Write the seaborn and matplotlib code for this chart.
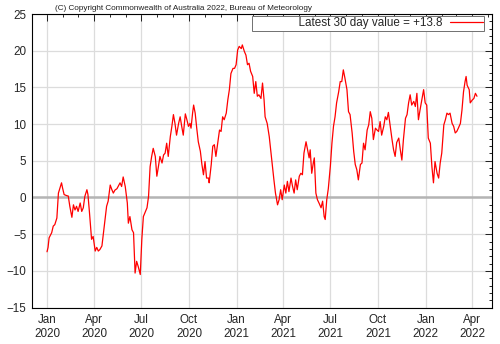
import numpy as np
import pandas as pd
import matplotlib
matplotlib.use("Agg")
import matplotlib.pyplot as plt
import matplotlib.dates as mdates
from matplotlib.ticker import MultipleLocator
import seaborn as sns

# 30-day Southern Oscillation Index, sampled every few days from 1 Jan 2020
start_date = "2020-01-01"
days_since_start = [
    0, 2, 4, 9, 12, 15, 19, 22, 25, 28, 30, 33, 38, 41, 44, 48, 51, 54, 57, 60,
    64, 67, 70, 73, 77, 79, 82, 86, 89, 93, 96, 99, 102, 106, 109, 112, 115, 118,
    122, 125, 128, 131, 135, 138, 141, 144, 147, 151, 155, 157, 160, 164, 167,
    170, 173, 176, 180, 183, 186, 189, 193, 196, 199, 202, 205, 209, 212, 215,
    218, 222, 225, 228, 231, 234, 238, 241, 244, 247, 250, 254, 257, 260, 263,
    267, 270, 273, 276, 278, 281, 283, 286, 289, 292, 296, 299, 302, 305, 308,
    312, 313, 317, 320, 323, 326, 330, 333, 336, 339, 342, 346, 349, 352, 355,
    359, 362, 365, 368, 371, 375, 377, 381, 384, 387, 390, 393, 397, 400, 403,
    406, 409, 413, 416, 419, 421, 425, 429, 432, 435, 438, 441, 445, 448, 451,
    454, 458, 461, 464, 467, 471, 474, 477, 480, 483, 487, 490, 493, 496, 500,
    503, 506, 508, 511, 514, 516, 519, 522, 525, 529, 532, 535, 537, 540, 543,
    547, 550, 553, 556, 559, 563, 566, 569, 572, 575, 579, 582, 585, 589, 592,
    595, 598, 601, 605, 608, 611, 614, 618, 621, 624, 627, 630, 634, 637, 640,
    643, 646, 650, 653, 656, 659, 663, 666, 669, 672, 675, 679, 682, 685, 688,
    692, 695, 698, 701, 704, 708, 711, 714, 717, 720, 724, 727, 730, 733, 736,
    740, 743, 746, 749, 753, 756, 759, 762, 766, 769, 772, 775, 778, 782, 785,
    788, 791, 794, 798, 801, 804, 807, 809, 811, 815, 817, 821, 824, 827, 830,
]
soi_30day = [
    -7.4, -6.8, -5.5, -4.8, -3.9, -3.7, -2.8, 0.6, 1.3, 2.0, 1.3, 0.4, 0.25, 0.2,
    -1.2, -2.7, -1.0, -1.7, -1.2, -1.9, -0.75, -1.9, -1.4, 0.15, 1.06, 0.4, -2.1,
    -5.7, -5.3, -7.3, -6.8, -7.3, -7.1, -6.6, -4.8, -3.0, -1.2, -0.5, 1.7, 1.1,
    0.6, 1.0, 1.2, 1.6, 2.0, 1.5, 2.8, 1.5, -0.75, -3.5, -2.6, -4.4, -4.8, -10.3,
    -8.7, -9.4, -10.5, -5.7, -2.6, -2.1, -1.4, 0.15, 4.2, 5.6, 6.7, 5.6, 2.9,
    4.2, 5.6, 4.7, 5.8, 6.05, 7.4, 5.6, 8.3, 9.7, 11.3, 10.1, 8.5, 10.1, 11.0,
    9.7, 8.5, 11.4, 10.6, 9.7, 10.1, 9.45, 11.5, 12.6, 11.5, 9.45, 7.6, 6.3, 4.5,
    3.1, 4.9, 2.65, 2.65, 2.0, 4.5, 7.0, 7.2, 5.6, 7.6, 9.2, 9.0, 11.0, 10.6,
    11.5, 13.3, 14.7, 16.9, 17.6, 17.6, 18.1, 20.1, 20.6, 20.3, 20.8, 19.9, 19.4,
    18.1, 18.3, 17.2, 16.5, 14.2, 15.8, 13.8, 14.0, 13.5, 15.6, 13.3, 11.0, 10.1,
    8.3, 6.3, 4.2, 2.4, 0.6, -1.0, -0.3, 1.06, -0.3, 1.7, 0.6, 2.2, 0.8, 2.65,
    1.5, 0.6, 2.4, 1.06, 2.9, 3.3, 3.1, 6.05, 7.6, 6.5, 5.4, 6.5, 3.3, 4.7, 5.4,
    0.6, -0.3, -0.75, -1.4, -0.5, -2.6, -3.0, -0.3, 1.2, 4.3, 7.4, 9.7, 11.0,
    12.9, 14.4, 15.8, 15.8, 17.4, 16.3, 14.7, 11.7, 11.3, 8.8, 6.3, 4.5, 3.8,
    2.4, 4.5, 4.7, 7.4, 6.5, 9.2, 9.9, 11.7, 10.8, 7.9, 9.45, 9.2, 9.0, 10.35,
    8.5, 9.7, 11.0, 10.6, 11.6, 9.45, 7.9, 6.5, 5.6, 7.5, 8.1, 6.5, 5.1, 7.9,
    10.8, 11.3, 12.9, 14.0, 12.6, 13.1, 12.4, 14.2, 10.6, 11.9, 13.5, 14.7, 12.9,
    12.6, 8.1, 7.4, 4.2, 2.0, 4.9, 3.3, 2.65, 4.7, 6.05, 9.9, 10.6, 11.5, 11.3,
    11.5, 10.1, 9.7, 8.8, 9.0, 9.45, 10.1, 11.9, 14.4, 15.8, 16.5, 15.3, 14.7,
    12.9, 13.3, 13.5, 14.2, 13.8,
]
y_range = (-15, 25)
x_range = ("2019-12-03", "2022-05-09")
copyright_note = "(C) Copyright Commonwealth of Australia 2022, Bureau of Meteorology"

df = pd.DataFrame({
    "date": pd.Timestamp(start_date) + pd.to_timedelta(days_since_start, unit="D"),
    "soi": soi_30day,
})
# key text is right-aligned inside a wide box, so pad it on the left
latest_label = " " * 14 + f"Latest 30 day value = {soi_30day[-1]:+.1f}"

sns.set_theme(style="white")
plt.rcParams["font.family"] = ["Liberation Sans", "DejaVu Sans"]

fig = plt.figure(figsize=(5.0, 3.44), dpi=100)
ax = fig.add_axes([0.064, 0.106, 0.92, 0.853])

ax.axhline(0, color="#b4b4b4", lw=1.8, zorder=1)
sns.lineplot(data=df, x="date", y="soi", ax=ax, color="#ff0000", lw=0.9,
             label=latest_label, zorder=3)

ax.set_xlim(pd.Timestamp(x_range[0]), pd.Timestamp(x_range[1]))
ax.set_ylim(*y_range)
ax.yaxis.set_major_locator(MultipleLocator(5))
ax.yaxis.set_minor_locator(MultipleLocator(1))
ax.xaxis.set_major_locator(mdates.MonthLocator(bymonth=[1, 4, 7, 10]))
ax.xaxis.set_minor_locator(mdates.MonthLocator())
ax.xaxis.set_major_formatter(mdates.DateFormatter("%b\n%Y"))
ax.set_xlabel("")
ax.set_ylabel("")

ax.grid(True, which="major", color="#dcdcdc", lw=0.9, zorder=0)
ax.set_axisbelow(True)
for side in ax.spines.values():
    side.set_color("#000000")
    side.set_linewidth(0.8)

ax.tick_params(which="both", direction="in", top=True, right=True,
               color="#000000", width=0.6)
ax.tick_params(which="major", length=5, labelsize=8.4, pad=4)
ax.tick_params(which="minor", length=2.5)
ax.tick_params(axis="x", which="major", pad=5)
fig.canvas.draw()
for lbl in ax.get_xticklabels():
    lbl.set_linespacing(1.12)

leg = ax.legend(loc="upper right", bbox_to_anchor=(0.968, 0.9535),
                bbox_transform=fig.transFigure,
                markerfirst=False, frameon=True,
                fancybox=False, framealpha=1, edgecolor="#707070",
                fontsize=8.4, handlelength=2.8, handletextpad=0.6,
                borderpad=0.12, borderaxespad=0.0)
leg.get_frame().set_linewidth(0.7)

fig.text(0.11, 0.975, copyright_note, fontsize=5.85, color="#202020",
         ha="left", va="center")

fig.savefig("out.png", dpi=100)
